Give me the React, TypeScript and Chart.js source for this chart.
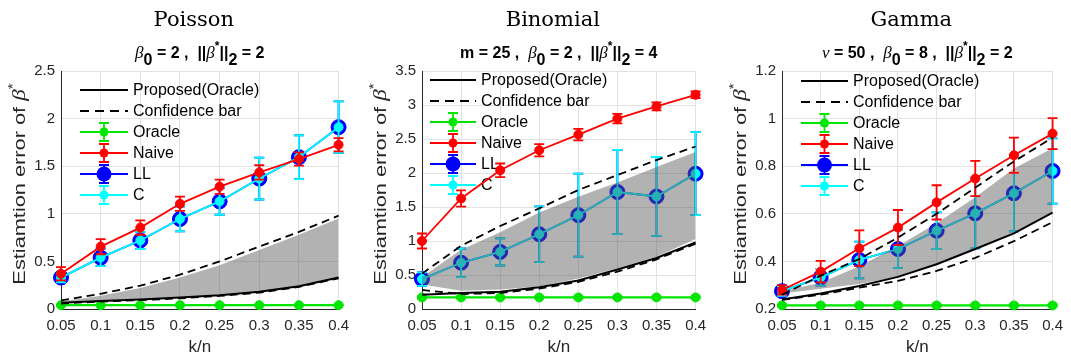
import React, { useEffect, useRef } from 'react';
import { Chart, registerables } from 'chart.js';

Chart.register(...registerables);

const SANS = '"Liberation Sans", Arial, Helvetica, sans-serif';
const TITLE_SERIF = '"DejaVu Serif", serif';
const GREEK = '"Liberation Serif", "DejaVu Serif", serif';

const GREEN = '#00e600';
const RED = '#ff0000';
const BLUE = '#0000ff';
const CYAN = '#00ffff';
const BAND = 'rgba(85,85,85,0.45)';

// x categories (k/n)
const kLabels = ['0.05', '0.1', '0.15', '0.2', '0.25', '0.3', '0.35', '0.4'];
const legendLabels = ['Proposed(Oracle)', 'Confidence bar', 'Oracle', 'Naive', 'LL', 'C'];

// ---------- Poisson ----------
const poissonProposed = [0.065, 0.085, 0.1, 0.12, 0.145, 0.18, 0.24, 0.33];
const poissonConfUpper = [0.09, 0.16, 0.245, 0.36, 0.5, 0.655, 0.81, 0.98];
const poissonConfLower = [0.058, 0.078, 0.093, 0.112, 0.137, 0.172, 0.232, 0.322];
const poissonBandUpper = [0.078, 0.14, 0.22, 0.33, 0.46, 0.62, 0.78, 0.95];
const poissonBandLower = [0.065, 0.085, 0.1, 0.12, 0.145, 0.18, 0.24, 0.33];
const poissonOracle = [0.04, 0.04, 0.04, 0.04, 0.04, 0.04, 0.04, 0.04];
const poissonOracleErr = [0.005, 0.005, 0.005, 0.005, 0.005, 0.005, 0.005, 0.005];
const poissonNaive = [0.37, 0.655, 0.855, 1.105, 1.285, 1.435, 1.575, 1.725];
const poissonNaiveErr = [0.07, 0.08, 0.075, 0.075, 0.075, 0.075, 0.07, 0.07];
const poissonLL = [0.33, 0.54, 0.72, 0.945, 1.13, 1.37, 1.595, 1.91];
const poissonLLErr = [0.05, 0.09, 0.09, 0.13, 0.14, 0.22, 0.23, 0.27];
const poissonC = [0.33, 0.54, 0.72, 0.945, 1.13, 1.37, 1.595, 1.91];
const poissonCErr = [0.05, 0.09, 0.09, 0.13, 0.14, 0.22, 0.23, 0.27];

// ---------- Binomial ----------
const binomProposed = [0.21, 0.235, 0.255, 0.32, 0.42, 0.58, 0.75, 0.98];
const binomConfUpper = [0.52, 0.93, 1.22, 1.48, 1.75, 1.97, 2.19, 2.39];
const binomConfLower = [0.28, 0.22, 0.235, 0.3, 0.4, 0.55, 0.73, 0.96];
const binomBandUpper = [0.47, 0.87, 1.13, 1.42, 1.65, 1.86, 2.09, 2.31];
const binomBandLower = [0.36, 0.27, 0.285, 0.33, 0.45, 0.6, 0.77, 1.03];
const binomOracle = [0.17, 0.17, 0.17, 0.17, 0.17, 0.17, 0.17, 0.17];
const binomOracleErr = [0.015, 0.015, 0.015, 0.015, 0.015, 0.015, 0.015, 0.015];
const binomNaive = [1.0, 1.625, 2.04, 2.335, 2.565, 2.8, 2.98, 3.15];
const binomNaiveErr = [0.11, 0.12, 0.1, 0.09, 0.085, 0.07, 0.06, 0.05];
const binomLL = [0.44, 0.68, 0.84, 1.1, 1.38, 1.72, 1.655, 1.99];
const binomLLErr = [0.1, 0.21, 0.2, 0.41, 0.61, 0.62, 0.58, 0.61];
const binomC = [0.44, 0.68, 0.84, 1.1, 1.38, 1.72, 1.655, 1.99];
const binomCErr = [0.1, 0.21, 0.2, 0.41, 0.61, 0.62, 0.58, 0.61];

// ---------- Gamma ----------
const gammaProposed = [0.24, 0.265, 0.297, 0.335, 0.388, 0.452, 0.518, 0.605];
const gammaConfUpper = [0.26, 0.34, 0.41, 0.5, 0.6, 0.71, 0.82, 0.92];
const gammaConfLower = [0.238, 0.26, 0.29, 0.318, 0.36, 0.415, 0.485, 0.565];
const gammaBandUpper = [0.275, 0.31, 0.38, 0.465, 0.56, 0.67, 0.79, 0.875];
const gammaBandLower = [0.265, 0.285, 0.305, 0.335, 0.39, 0.452, 0.518, 0.605];
const gammaOracle = [0.215, 0.215, 0.215, 0.215, 0.215, 0.215, 0.215, 0.215];
const gammaOracleErr = [0.004, 0.004, 0.004, 0.004, 0.004, 0.004, 0.004, 0.004];
const gammaNaive = [0.28, 0.357, 0.455, 0.542, 0.648, 0.748, 0.846, 0.937];
const gammaNaiveErr = [0.02, 0.045, 0.075, 0.074, 0.072, 0.074, 0.074, 0.065];
const gammaLL = [0.275, 0.333, 0.406, 0.452, 0.529, 0.602, 0.686, 0.78];
const gammaLLErr = [0.02, 0.035, 0.077, 0.08, 0.077, 0.147, 0.16, 0.137];
const gammaC = [0.275, 0.333, 0.406, 0.452, 0.529, 0.602, 0.686, 0.78];
const gammaCErr = [0.02, 0.035, 0.077, 0.08, 0.077, 0.147, 0.16, 0.137];

type Run = { t: string; k: 'n' | 'g' | 'sub' | 'sup' };

const normRuns: Run[] = [
  { t: 'β', k: 'g' }, { t: '0', k: 'sub' }, { t: ' = ', k: 'n' },
];

interface Panel {
  title: string;
  subtitle: Run[];
  yMin: number; yMax: number; yStep: number;
  proposed: number[]; confUpper: number[]; confLower: number[];
  bandUpper: number[]; bandLower: number[];
  oracle: number[]; oracleErr: number[];
  naive: number[]; naiveErr: number[];
  ll: number[]; llErr: number[];
  c: number[]; cErr: number[];
  canvasLeft: number; width: number; yAxisWidth: number; rightPad: number;
  legendDx: number; legendDy: number; legendLine: number;
}

const H = 358;
const PLOT_TOP = 71;
const X_AXIS_H = 49;

const panels: Panel[] = [
  {
    title: 'Poisson',
    subtitle: [
      ...normRuns, { t: '2 ,  ||', k: 'n' }, { t: 'β', k: 'g' }, { t: '*', k: 'sup' },
      { t: '||', k: 'n' }, { t: '2', k: 'sub' }, { t: ' = 2', k: 'n' },
    ],
    yMin: 0, yMax: 2.5, yStep: 0.5,
    proposed: poissonProposed, confUpper: poissonConfUpper, confLower: poissonConfLower,
    bandUpper: poissonBandUpper, bandLower: poissonBandLower,
    oracle: poissonOracle, oracleErr: poissonOracleErr,
    naive: poissonNaive, naiveErr: poissonNaiveErr,
    ll: poissonLL, llErr: poissonLLErr, c: poissonC, cErr: poissonCErr,
    canvasLeft: 0, width: 357, yAxisWidth: 61, rightPad: 17,
    legendDx: 19, legendDy: 19, legendLine: 48,
  },
  {
    title: 'Binomial',
    subtitle: [
      { t: 'm = 25 ,  ', k: 'n' },
      ...normRuns, { t: '2 ,  ||', k: 'n' }, { t: 'β', k: 'g' }, { t: '*', k: 'sup' },
      { t: '||', k: 'n' }, { t: '2', k: 'sub' }, { t: ' = 4', k: 'n' },
    ],
    yMin: 0, yMax: 3.5, yStep: 0.5,
    proposed: binomProposed, confUpper: binomConfUpper, confLower: binomConfLower,
    bandUpper: binomBandUpper, bandLower: binomBandLower,
    oracle: binomOracle, oracleErr: binomOracleErr,
    naive: binomNaive, naiveErr: binomNaiveErr,
    ll: binomLL, llErr: binomLLErr, c: binomC, cErr: binomCErr,
    canvasLeft: 357, width: 357, yAxisWidth: 65, rightPad: 15,
    legendDx: 8, legendDy: 9, legendLine: 46,
  },
  {
    title: 'Gamma',
    subtitle: [
      { t: 'ν', k: 'g' }, { t: ' = 50 ,  ', k: 'n' },
      ...normRuns, { t: '8 ,  ||', k: 'n' }, { t: 'β', k: 'g' }, { t: '*', k: 'sup' },
      { t: '||', k: 'n' }, { t: '2', k: 'sub' }, { t: ' = 2', k: 'n' },
    ],
    yMin: 0.2, yMax: 1.2, yStep: 0.2,
    proposed: gammaProposed, confUpper: gammaConfUpper, confLower: gammaConfLower,
    bandUpper: gammaBandUpper, bandLower: gammaBandLower,
    oracle: gammaOracle, oracleErr: gammaOracleErr,
    naive: gammaNaive, naiveErr: gammaNaiveErr,
    ll: gammaLL, llErr: gammaLLErr, c: gammaC, cErr: gammaCErr,
    canvasLeft: 714, width: 357, yAxisWidth: 68, rightPad: 12,
    legendDx: 19, legendDy: 10, legendLine: 47,
  },
];

function drawRuns(ctx: CanvasRenderingContext2D, runs: Run[], cx: number, baseline: number, size: number, bold: boolean) {
  const w = bold ? 'bold ' : '';
  const fonts: Record<string, string> = {
    n: `${w}${size}px ${SANS}`,
    g: `italic ${size + 1}px ${GREEK}`,
    sub: `${w}${size}px ${SANS}`,
    sup: `${w}${Math.round(size * 0.72)}px ${SANS}`,
  };
  const dy: Record<string, number> = { n: 0, g: 0, sub: size * 0.42, sup: -size * 0.5 };
  ctx.textAlign = 'left';
  ctx.textBaseline = 'alphabetic';
  let total = 0;
  const widths = runs.map((r) => {
    ctx.font = fonts[r.k];
    const m = ctx.measureText(r.t).width;
    total += m;
    return m;
  });
  let x = cx - total / 2;
  runs.forEach((r, i) => {
    ctx.font = fonts[r.k];
    ctx.fillText(r.t, x, baseline + dy[r.k]);
    x += widths[i];
  });
}

function errBar(ctx: CanvasRenderingContext2D, x: number, yTop: number, yBot: number, cap: number) {
  ctx.beginPath();
  ctx.moveTo(x, yTop);
  ctx.lineTo(x, yBot);
  ctx.moveTo(x - cap, yTop);
  ctx.lineTo(x + cap, yTop);
  ctx.moveTo(x - cap, yBot);
  ctx.lineTo(x + cap, yBot);
  ctx.stroke();
}

const errorBarPlugin = {
  id: 'errorBars',
  afterDatasetDraw(chart: any, args: any) {
    const ds = chart.data.datasets[args.index];
    if (!ds.errorBars) return;
    const ctx = chart.ctx as CanvasRenderingContext2D;
    const xs = chart.scales.x;
    const ys = chart.scales.y;
    ctx.save();
    ctx.strokeStyle = ds.errColor;
    ctx.lineWidth = 1.8;
    ds.data.forEach((v: number, i: number) => {
      const e = ds.errorBars[i];
      const x = xs.getPixelForValue(i);
      errBar(ctx, x, ys.getPixelForValue(v + e), ys.getPixelForValue(v - e), 5);
    });
    ctx.restore();
  },
};

function makeDecorPlugin(p: Panel) {
  return {
    id: 'decor' + p.title,
    beforeDatasetsDraw(chart: any) {
      const ctx = chart.ctx as CanvasRenderingContext2D;
      const a = chart.chartArea;
      const x0 = a.left + p.legendDx;
      const x1 = x0 + p.legendLine;
      const xm = (x0 + x1) / 2;
      const entries = [
        { color: '#000', dash: [] as number[], r: 0, err: false },
        { color: '#000', dash: [9, 6], r: 0, err: false },
        { color: GREEN, dash: [], r: 4.5, err: true },
        { color: RED, dash: [], r: 4.5, err: true },
        { color: BLUE, dash: [], r: 7.5, err: true },
        { color: CYAN, dash: [], r: 4.5, err: true },
      ];
      ctx.save();
      entries.forEach((e, i) => {
        const y = a.top + p.legendDy + i * 21;
        ctx.strokeStyle = e.color;
        ctx.lineWidth = 2;
        ctx.setLineDash(e.dash);
        ctx.beginPath();
        ctx.moveTo(x0, y);
        ctx.lineTo(x1, y);
        ctx.stroke();
        ctx.setLineDash([]);
        if (e.err) {
          ctx.lineWidth = 1.8;
          errBar(ctx, xm, y - 9, y + 9, 5);
        }
        if (e.r > 0) {
          ctx.fillStyle = e.color;
          ctx.beginPath();
          ctx.arc(xm, y, e.r, 0, Math.PI * 2);
          ctx.fill();
        }
        ctx.fillStyle = '#000';
        ctx.font = `16px ${SANS}`;
        ctx.textAlign = 'left';
        ctx.textBaseline = 'middle';
        ctx.fillText(legendLabels[i], x1 + 5, y + 1);
      });
      ctx.restore();
    },
    afterDraw(chart: any) {
      const ctx = chart.ctx as CanvasRenderingContext2D;
      const a = chart.chartArea;
      const cx = (a.left + a.right) / 2;
      ctx.save();
      ctx.fillStyle = '#000';
      ctx.font = `21px ${TITLE_SERIF}`;
      ctx.textAlign = 'center';
      ctx.textBaseline = 'alphabetic';
      ctx.fillText(p.title, cx - 6, 26);
      drawRuns(ctx, p.subtitle, cx, 58, 16, true);
      ctx.fillStyle = '#262626';
      ctx.font = `17px ${SANS}`;
      ctx.textAlign = 'center';
      ctx.textBaseline = 'middle';
      ctx.fillText('k/n', cx, 347);
      // y-axis title (rotated)
      ctx.translate(a.left - 42, (a.top + a.bottom) / 2 - 6);
      ctx.rotate(-Math.PI / 2);
      ctx.scale(1.28, 1);
      drawRuns(
        ctx,
        [{ t: 'Estiamtion error of ', k: 'n' }, { t: 'β', k: 'g' }, { t: '*', k: 'sup' }],
        0, 6, 17, false,
      );
      ctx.restore();
    },
  };
}

function lineDs(label: string, data: number[], color: string, order: number, extra: any = {}) {
  return {
    label, data, order,
    borderColor: color, backgroundColor: color,
    pointBackgroundColor: color, pointBorderColor: color,
    borderWidth: 1.8, pointRadius: 4.5, pointBorderWidth: 1,
    fill: false, clip: false, tension: 0,
    ...extra,
  };
}

function buildConfig(p: Panel): any {
  const datasets = [
    lineDs('Proposed(Oracle)', p.proposed, '#000', 0, { borderWidth: 2, pointRadius: 0 }),
    lineDs('Confidence bar upper', p.confUpper, '#000', 0, { borderWidth: 1.8, pointRadius: 0, borderDash: [8, 5] }),
    lineDs('Confidence bar lower', p.confLower, '#000', 0, { borderWidth: 1.8, pointRadius: 0, borderDash: [8, 5] }),
    lineDs('Oracle', p.oracle, GREEN, 5, { errorBars: p.oracleErr, errColor: GREEN, borderWidth: 2.2 }),
    lineDs('Naive', p.naive, RED, 1, { errorBars: p.naiveErr, errColor: RED }),
    lineDs('band lower', p.bandLower, 'transparent', 2, { borderWidth: 0, pointRadius: 0 }),
    lineDs('band upper', p.bandUpper, 'transparent', 2, { borderWidth: 0, pointRadius: 0, fill: '-1', backgroundColor: BAND }),
    lineDs('C', p.c, CYAN, 3, { errorBars: p.cErr, errColor: CYAN }),
    lineDs('LL', p.ll, BLUE, 4, { errorBars: p.llErr, errColor: BLUE, pointRadius: 7.5 }),
  ];
  return {
    type: 'line',
    data: { labels: kLabels, datasets },
    options: {
      animation: false,
      responsive: false,
      maintainAspectRatio: false,
      events: [],
      layout: { padding: { left: 0, right: p.rightPad, top: PLOT_TOP, bottom: 0 } },
      plugins: {
        legend: { display: false },
        title: { display: false },
        tooltip: { enabled: false },
        filler: { propagate: false },
      },
      scales: {
        x: {
          type: 'category',
          offset: false,
          grid: { color: '#e2e2e2', lineWidth: 1, drawTicks: false },
          border: { color: '#262626', width: 1 },
          ticks: {
            color: '#262626', font: { family: SANS, size: 15 }, padding: 8,
            autoSkip: false, maxRotation: 0, minRotation: 0,
          },
          afterFit: (s: any) => { s.height = X_AXIS_H; },
        },
        y: {
          type: 'linear',
          min: p.yMin, max: p.yMax,
          grid: { color: '#e2e2e2', lineWidth: 1, drawTicks: false },
          border: { color: '#262626', width: 1 },
          ticks: {
            stepSize: p.yStep, color: '#262626', font: { family: SANS, size: 15 }, padding: 6,
            callback: (v: any) => String(parseFloat(Number(v).toFixed(2))),
          },
          afterFit: (s: any) => { s.width = p.yAxisWidth; },
        },
      },
    },
    plugins: [errorBarPlugin, makeDecorPlugin(p)],
  };
}

function PanelChart({ p }: { p: Panel }) {
  const ref = useRef<HTMLCanvasElement>(null);
  useEffect(() => {
    const canvas = ref.current;
    if (!canvas) return;
    const chart = new Chart(canvas, buildConfig(p));
    return () => chart.destroy();
  }, [p]);
  return (
    <canvas
      ref={ref}
      width={p.width}
      height={H}
      style={{ position: 'absolute', left: p.canvasLeft, top: 0, width: p.width, height: H }}
    />
  );
}

export default function App() {
  return (
    <div style={{ position: 'fixed', left: 0, top: 0, width: 1071, height: H, background: '#fff', overflow: 'hidden' }}>
      {panels.map((p) => (
        <PanelChart key={p.title} p={p} />
      ))}
    </div>
  );
}
